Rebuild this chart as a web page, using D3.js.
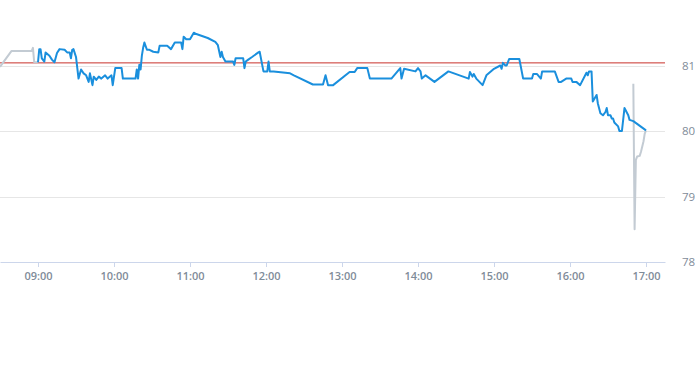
<!DOCTYPE html>
<html>
<head>
<meta charset="utf-8">
<script src="https://d3js.org/d3.v7.min.js"></script>
<style>
  body { margin: 0; background: #fff; }
  text { font-family: "Open Sans", sans-serif; }
</style>
</head>
<body>
<svg width="695" height="370"></svg>
<script>

// regular session prices
var times = ["09:00","09:01","09:02","09:03","09:05","09:06","09:09","09:11","09:13","09:15",
  "09:17","09:21","09:23","09:25","09:26","09:27","09:28","09:30","09:32","09:34",
  "09:36","09:38","09:40","09:41","09:43","09:44","09:46","09:48","09:50","09:53",
  "09:55","09:58","09:59","10:01","10:06","10:07","10:17","10:18","10:19","10:20",
  "10:21","10:22","10:23","10:24","10:26","10:28","10:31","10:35","10:36","10:42",
  "10:45","10:48","10:53","10:54","10:55","10:57","11:00","11:03","11:05","11:14",
  "11:20","11:22","11:24","11:25","11:26","11:28","11:34","11:35","11:36","11:42",
  "11:43","11:44","11:46","11:49","11:54","11:55","11:57","11:58","12:01","12:02",
  "12:03","12:06","12:19","12:22","12:37","12:45","12:47","12:49","12:53","13:06",
  "13:10","13:12","13:20","13:22","13:39","13:46","13:47","13:49","13:58","14:00",
  "14:02","14:03","14:06","14:13","14:24","14:40","14:41","14:43","14:44","14:46",
  "14:51","14:54","15:00","15:05","15:06","15:07","15:09","15:10","15:12","15:20",
  "15:23","15:30","15:31","15:34","15:37","15:38","15:48","15:51","15:53","15:57",
  "16:01","16:02","16:05","16:08","16:13","16:14","16:15","16:17","16:18","16:21",
  "16:22","16:24","16:26","16:28","16:29","16:30","16:32","16:33","16:34","16:35",
  "16:38","16:39","16:41","16:43","16:46","16:47","16:50","17:00"];
var prices = [81.05,81.25,81.25,81.11,81.06,81.20,81.15,81.09,81.05,81.19,
  81.25,81.24,81.20,81.20,81.11,81.24,81.25,81.13,80.80,80.94,
  80.88,80.85,80.75,80.88,80.70,80.83,80.78,80.83,80.80,80.85,
  80.80,80.85,80.70,80.96,80.96,80.80,80.80,80.94,80.80,81.01,
  80.94,81.15,81.27,81.35,81.24,81.24,81.21,81.20,81.30,81.30,
  81.25,81.35,81.35,81.25,81.44,81.40,81.40,81.50,81.48,81.42,
  81.36,81.31,81.13,81.21,81.13,81.06,81.06,81.01,81.11,81.11,
  80.96,81.06,81.09,81.13,81.20,81.21,81.01,80.91,80.91,81.06,
  80.91,80.91,80.88,80.85,80.71,80.71,80.85,80.70,80.70,80.90,
  80.90,80.96,80.96,80.80,80.80,80.96,80.80,80.95,80.91,80.96,
  80.91,80.80,80.85,80.75,80.91,80.80,80.90,80.83,80.87,80.80,
  80.70,80.85,80.95,81.00,80.95,81.04,81.00,81.00,81.10,81.10,
  80.80,80.80,80.87,80.87,80.80,80.91,80.91,80.75,80.75,80.80,
  80.80,80.75,80.75,80.70,80.89,80.85,80.91,80.91,80.45,80.55,
  80.42,80.27,80.24,80.29,80.35,80.24,80.24,80.19,80.19,80.13,
  80.07,80.00,80.00,80.35,80.24,80.17,80.15,80.01];

// pre-market and after-hours prices
var preTimes = ["08:30","08:39","08:55","08:56","08:57","09:00"];
var prePrices = [80.98,81.22,81.22,81.27,81.05,81.05];
var postTimes = ["16:50","16:51","16:52","16:53","16:55","16:56","16:58","16:59","17:00"];
var postPrices = [80.72,78.50,79.56,79.61,79.62,79.68,79.84,79.96,80.01];

var prevClose = 81.04;
var yTicks = [78, 79, 80, 81];

var svg = d3.select("svg"),
    plotRight = 665,
    plotBottom = 262;

var parse = d3.timeParse("%H:%M");

var x = d3.scaleTime()
    .domain([parse("08:30"), parse("17:15")])
    .range([0, plotRight]);

var y = d3.scaleLinear()
    .domain([78, 81])
    .range([plotBottom, 65.5]);

function toPoints(ts, vs) {
  return ts.map(function(t, i) { return [parse(t), vs[i]]; });
}

var line = d3.line()
    .x(function(d) { return x(d[0]); })
    .y(function(d) { return y(d[1]); });

// grid lines
svg.append("g")
  .selectAll("line")
  .data(yTicks.slice(1))
  .enter().append("line")
    .attr("x1", 0)
    .attr("x2", plotRight)
    .attr("y1", function(d) { return Math.round(y(d)) + 0.5; })
    .attr("y2", function(d) { return Math.round(y(d)) + 0.5; })
    .attr("stroke", "#e6e6e6");

// y labels on the right
svg.append("g")
  .selectAll("text")
  .data(yTicks)
  .enter().append("text")
    .attr("x", 682)
    .attr("y", function(d) { return y(d) + 4; })
    .attr("fill", "#7f8c99")
    .attr("font-size", "11.5px")
    .text(function(d) { return d; });

// x axis
var xAxis = svg.append("g")
    .attr("transform", "translate(0," + plotBottom + ")")
    .call(d3.axisBottom(x)
      .ticks(d3.timeHour.every(1))
      .tickFormat(d3.timeFormat("%H:%M"))
      .tickSize(5)
      .tickSizeOuter(0));

xAxis.select(".domain").attr("stroke", "#ccd6eb");
xAxis.selectAll(".tick line").attr("stroke", "#ccd6eb");
xAxis.selectAll(".tick text")
    .attr("fill", "#7f8c99")
    .attr("font-family", "Open Sans, sans-serif")
    .attr("font-size", "11px")
    .attr("font-weight", 600)
    .attr("dy", "0.9em");

// previous close
svg.append("line")
    .attr("x1", 0)
    .attr("x2", plotRight)
    .attr("y1", y(prevClose))
    .attr("y2", y(prevClose))
    .attr("stroke", "#c8302b")
    .attr("stroke-width", 1);

// extended hours
[toPoints(preTimes, prePrices), toPoints(postTimes, postPrices)].forEach(function(pts) {
  svg.append("path")
      .datum(pts)
      .attr("d", line)
      .attr("fill", "none")
      .attr("stroke", "#c3cbd3")
      .attr("stroke-width", 2)
      .attr("stroke-linejoin", "round");
});

// regular session
svg.append("path")
    .datum(toPoints(times, prices))
    .attr("d", line)
    .attr("fill", "none")
    .attr("stroke", "#1a8fdd")
    .attr("stroke-width", 2)
    .attr("stroke-linejoin", "round");

</script>
</body>
</html>
